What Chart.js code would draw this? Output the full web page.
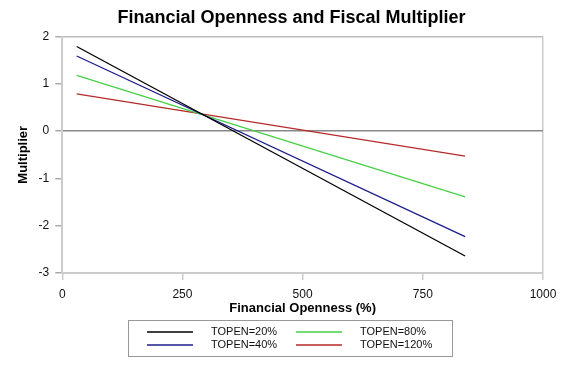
<!DOCTYPE html>
<html>
<head>
<meta charset="utf-8">
<script src="https://cdn.jsdelivr.net/npm/chart.js@4"></script>
<style>
  html, body { margin: 0; padding: 0; background: #fff; }
  #wrap { width: 580px; height: 367px; }
</style>
</head>
<body>
<div id="wrap"><canvas id="chart"></canvas></div>
<script>
// data
let seriesNames = ["TOPEN=20%", "TOPEN=40%", "TOPEN=80%", "TOPEN=120%"];
let xStartEnd = [30, 838];
let topen20 = [1.79, -2.64];
let topen40 = [1.59, -2.23];
let topen80 = [1.18, -1.39];
let topen120 = [0.79, -0.53];
let xTicks = [0, 250, 500, 750, 1000];
let yTicks = [-3, -2, -1, 0, 1, 2];

let colors = ["#000000", "#1c1c8c", "#46d046", "#b52a2a"];
let allValues = [topen20, topen40, topen80, topen120];

let ctx = document.querySelector("#chart");

// boxed two-column legend below the plot
let boxLegend = {
  id: "boxLegend",
  afterLayout(chart) {
    // title sits a bit right of the padded area in the original
    if (chart.titleBlock) {
      chart.titleBlock.left += 24;
    }
  },
  afterDraw(chart) {
    let c = chart.ctx;
    let sets = chart.data.datasets;
    c.save();
    c.strokeStyle = "#999";
    c.lineWidth = 1;
    c.strokeRect(128.5, 320.5, 324, 36);
    c.font = "11px 'Liberation Sans', Arial, sans-serif";
    c.textBaseline = "middle";
    c.fillStyle = "#111";
    sets.forEach(function (ds, i) {
      let col = Math.floor(i / 2);
      let row = i % 2;
      let x0 = col === 0 ? 147 : 296;
      let y0 = row === 0 ? 332 : 345;
      c.strokeStyle = ds.borderColor;
      c.lineWidth = 1.3;
      c.beginPath();
      c.moveTo(x0, y0);
      c.lineTo(x0 + 46, y0);
      c.stroke();
      c.fillText(ds.label, x0 + 64, y0);
    });
    c.restore();
  },
};

let chart = new Chart(ctx, {
  type: "scatter",
  data: {
    datasets: seriesNames.map(function (name, i) {
      return {
        label: name,
        data: xStartEnd.map(function (x, j) {
          return { x: x, y: allValues[i][j] };
        }),
        showLine: true,
        borderColor: colors[i],
        backgroundColor: colors[i],
        borderWidth: 1.3,
        pointRadius: 0,
      };
    }),
  },
  plugins: [boxLegend],
  options: {
    responsive: true,
    maintainAspectRatio: false,
    animation: false,
    layout: {
      padding: { left: 16, right: 37, top: 0, bottom: 51 },
    },
    plugins: {
      legend: { display: false },
      tooltip: { enabled: false },
      title: {
        display: true,
        text: "Financial Openness and Fiscal Multiplier",
        color: "#000",
        font: { family: "'Liberation Sans', Arial, sans-serif", size: 18, weight: "bold" },
        padding: { top: 7, bottom: 8 },
      },
    },
    scales: {
      x: {
        type: "linear",
        min: 0,
        max: 1000,
        afterBuildTicks(scale) {
          scale.ticks = xTicks.map(function (v) { return { value: v }; });
        },
        border: { color: "#ccc", width: 2 },
        grid: {
          color: function (c) {
            return c.tick && c.tick.value === 1000 ? "#ccc" : "rgba(0,0,0,0)";
          },
          tickColor: "#ccc",
          tickLength: 7,
          lineWidth: 1.5,
        },
        ticks: {
          color: "#111",
          padding: 7,
          font: { family: "'Liberation Sans', Arial, sans-serif", size: 12 },
          callback: function (v) { return String(v); },
        },
        title: {
          display: true,
          text: "Financial Openness (%)",
          color: "#000",
          padding: { top: -8, bottom: 0 },
          font: { family: "'Liberation Sans', Arial, sans-serif", size: 13, weight: "bold" },
        },
      },
      y: {
        min: -3,
        max: 2,
        afterBuildTicks(scale) {
          scale.ticks = yTicks.map(function (v) { return { value: v }; });
        },
        border: { color: "#ccc", width: 2 },
        grid: {
          color: function (c) {
            if (!c.tick) return "rgba(0,0,0,0)";
            if (c.tick.value === 0) return "#888";
            if (c.tick.value === 2 || c.tick.value === -3) return "#bbb";
            return "rgba(0,0,0,0)";
          },
          tickColor: "#aaa",
          tickLength: 7,
          lineWidth: 1.5,
        },
        ticks: {
          color: "#111",
          padding: 6,
          font: { family: "'Liberation Sans', Arial, sans-serif", size: 12 },
        },
        title: {
          display: true,
          text: "Multiplier",
          color: "#000",
          padding: { top: 0, bottom: 1 },
          font: { family: "'Liberation Sans', Arial, sans-serif", size: 13, weight: "bold" },
        },
      },
    },
  },
});
</script>
</body>
</html>
